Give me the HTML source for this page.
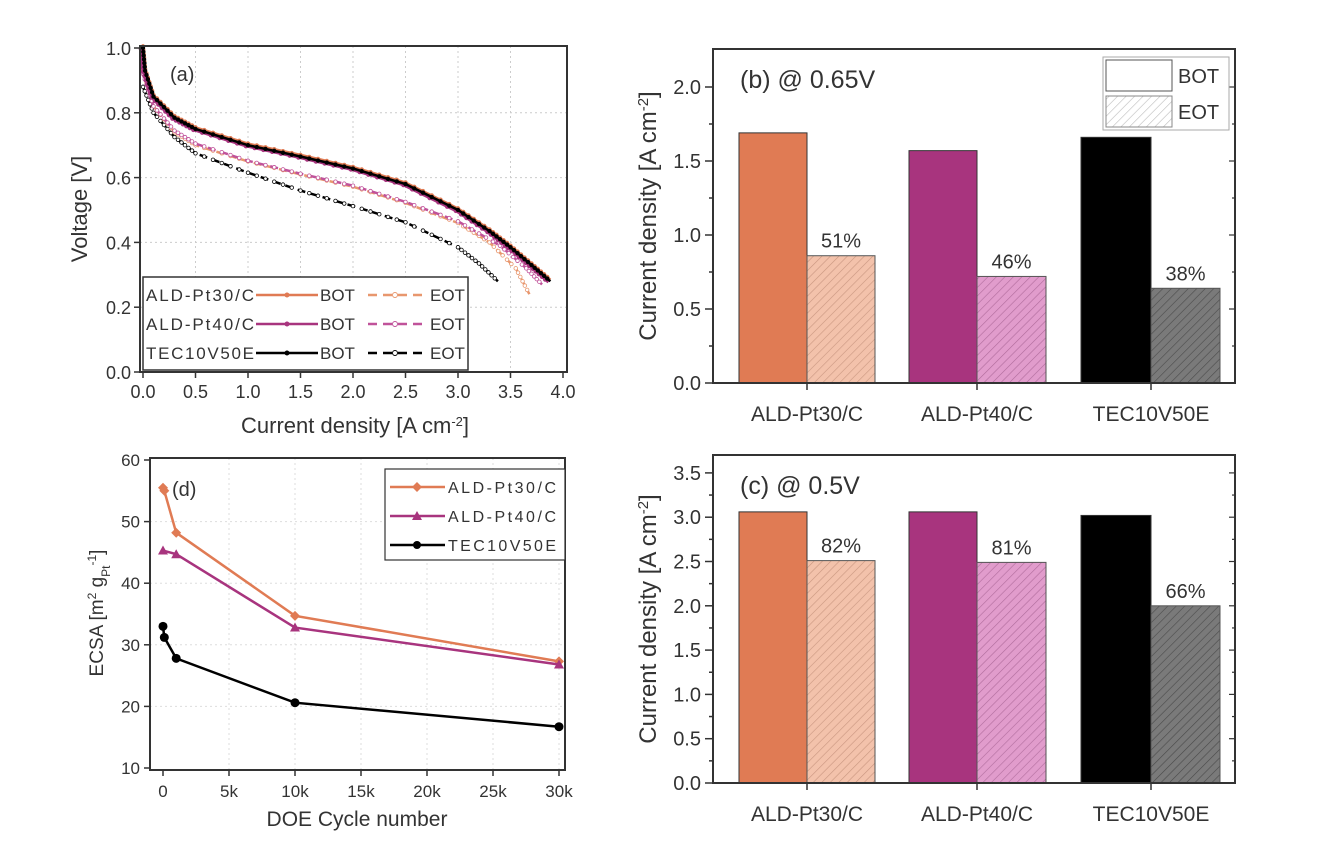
<!DOCTYPE html>
<html><head><meta charset="utf-8"><style>
body{margin:0;background:#fff;}
svg text{font-family:"Liberation Sans","DejaVu Sans",sans-serif;fill:#333;}
</style></head><body>
<svg id="s" width="1332" height="858" viewBox="0 0 1332 858" xmlns="http://www.w3.org/2000/svg">
<defs>
<pattern id="hp" patternUnits="userSpaceOnUse" width="6" height="6" patternTransform="rotate(45)"><rect width="6" height="6" fill="#f3c2ab"/><line x1="0" y1="0" x2="0" y2="6" stroke="#c99680" stroke-width="1.2"/></pattern>
<pattern id="hk" patternUnits="userSpaceOnUse" width="6" height="6" patternTransform="rotate(45)"><rect width="6" height="6" fill="#e19ccc"/><line x1="0" y1="0" x2="0" y2="6" stroke="#b06c9c" stroke-width="1.2"/></pattern>
<pattern id="hg" patternUnits="userSpaceOnUse" width="6" height="6" patternTransform="rotate(45)"><rect width="6" height="6" fill="#7a7a7a"/><line x1="0" y1="0" x2="0" y2="6" stroke="#4a4a4a" stroke-width="1.2"/></pattern>
<pattern id="hw" patternUnits="userSpaceOnUse" width="6" height="6" patternTransform="rotate(45)"><rect width="6" height="6" fill="#fff"/><line x1="0" y1="0" x2="0" y2="6" stroke="#bbb" stroke-width="1.2"/></pattern>
</defs>
</svg>
<script>
var s=document.getElementById('s');var NS='http://www.w3.org/2000/svg';
function el(t,a,txt){var e=document.createElementNS(NS,t);for(var k in a)e.setAttribute(k,a[k]);if(txt!=null)e.textContent=txt;s.appendChild(e);return e;}
function T(x,y,t,fs,anchor,extra){var a={x:x,y:y,'font-size':fs,'text-anchor':anchor||'start'};for(var k in extra)a[k]=extra[k];return el('text',a,t);}
var O='#e07b54',P='#a8347e',K='#000';
// ---------- Panel (a)
var ax=function(j){return 143+j*105},ay=function(v){return 372-v*324};
for(var i=1;i<8;i++){el('line',{x1:ax(i*0.5),y1:46,x2:ax(i*0.5),y2:372,stroke:'#ccc','stroke-dasharray':'2,3'});}
for(var i=1;i<5;i++){el('line',{x1:140,y1:ay(i*0.2),x2:567,y2:ay(i*0.2),stroke:'#ccc','stroke-dasharray':'2,3'});}
function curve(pts,col,dash,open,w){var d='';pts.forEach(function(p,i){d+=(i?'L':'M')+ax(p[0]).toFixed(1)+','+ay(p[1]).toFixed(1);});
el('path',{d:d,fill:'none',stroke:col,'stroke-width':w||2.5,'stroke-dasharray':dash||'none'});
for(var i=0;i<pts.length-1;i++){var n=6;for(var k=0;k<n;k++){var t=k/n;var x=pts[i][0]+(pts[i+1][0]-pts[i][0])*t,y=pts[i][1]+(pts[i+1][1]-pts[i][1])*t;el('circle',{cx:ax(x),cy:ay(y),r:1.8,fill:open?'#fff':col,stroke:col,'stroke-width':0.8});}}}
var bot=[[0,1.0],[0.02,0.93],[0.1,0.85],[0.3,0.785],[0.5,0.75],[1.0,0.70],[1.5,0.665],[2.0,0.628],[2.5,0.58],[3.0,0.50],[3.3,0.435],[3.5,0.385],[3.7,0.33],[3.88,0.28]];
var eotO=[[0,0.93],[0.1,0.82],[0.3,0.74],[0.5,0.70],[1,0.65],[1.5,0.61],[2,0.572],[2.5,0.522],[3,0.46],[3.3,0.40],[3.55,0.32],[3.68,0.24]];
var eotP=[[0,0.92],[0.1,0.82],[0.3,0.745],[0.5,0.705],[1,0.652],[1.5,0.612],[2,0.575],[2.5,0.525],[3,0.465],[3.4,0.39],[3.65,0.32],[3.8,0.27]];
var eotK=[[0,0.88],[0.1,0.80],[0.3,0.725],[0.5,0.675],[1,0.615],[1.5,0.56],[2,0.512],[2.5,0.462],[3,0.385],[3.2,0.335],[3.38,0.28]];
curve(eotK,K,'8,5',true);curve(eotO,'#e8976e','8,5',true);curve(eotP,'#c0529a','8,5',true);
var bO=bot.map(function(p){return[p[0],p[1]+0.005]});curve(bO,O);
var bP=bot.map(function(p){return[p[0]-0.02,p[1]-0.003]});curve(bP,P);curve(bot,K);
el('rect',{x:140,y:46,width:427,height:326,fill:'none',stroke:'#333','stroke-width':2});
for(var i=0;i<=8;i++){el('line',{x1:ax(i*0.5),y1:372,x2:ax(i*0.5),y2:378,stroke:'#333','stroke-width':1.5});T(ax(i*0.5),398,(i*0.5).toFixed(1),18,'middle');}
for(var i=0;i<=5;i++){el('line',{x1:134,y1:ay(i*0.2),x2:140,y2:ay(i*0.2),stroke:'#333','stroke-width':1.5});T(131,ay(i*0.2)+7,(i*0.2).toFixed(1),18,'end');}
T(355,433,'',22,'middle').innerHTML='Current density [A cm<tspan baseline-shift="super" font-size="13">-2</tspan>]';
T(0,0,'Voltage [V]',22,'middle',{transform:'translate(87,209) rotate(-90)'});
T(170,81,'(a)',20,'start');
el('rect',{x:143,y:277,width:325,height:93,fill:'#fff',stroke:'#333','stroke-width':1.5});
var rows=[['ALD-Pt30/C',O,'#e8976e'],['ALD-Pt40/C',P,'#c0529a'],['TEC10V50E',K,K]];
rows.forEach(function(r,i){var y=295+i*29;T(146,y+6,r[0],17,'start',{textLength:108});el('line',{x1:256,y1:y,x2:318,y2:y,stroke:r[1],'stroke-width':2.5});el('circle',{cx:287,cy:y,r:2.5,fill:r[1]});T(320,y+6,'BOT',17);
el('line',{x1:368,y1:y,x2:422,y2:y,stroke:r[2],'stroke-width':2.5,'stroke-dasharray':'9,6'});el('circle',{cx:395,cy:y,r:2.5,fill:'#fff',stroke:r[2]});T(430,y+6,'EOT',17);});
// ---------- Panel (d)
var dx=function(c){return 163+c*(396/30000)},dy=function(v){return 768-(v-10)*6.16};
for(var i=1;i<7;i++){el('line',{x1:dx(i*5000),y1:458,x2:dx(i*5000),y2:770,stroke:'#ddd','stroke-dasharray':'2,3'});}
for(var i=1;i<5;i++){el('line',{x1:150,y1:dy(10+i*10),x2:565,y2:dy(10+i*10),stroke:'#ddd','stroke-dasharray':'2,3'});}
function mk(type,x,y,col,r){if(type=='c')el('circle',{cx:x,cy:y,r:r||4.5,fill:col});else if(type=='t')el('polygon',{points:(x-5)+','+(y+4)+' '+(x+5)+','+(y+4)+' '+x+','+(y-5),fill:col});else el('polygon',{points:x+','+(y-5)+' '+(x+5)+','+y+' '+x+','+(y+5)+' '+(x-5)+','+y,fill:col});}
function dl(pts,col,m){var d='';pts.forEach(function(p,i){d+=(i?'L':'M')+dx(p[0]).toFixed(1)+','+dy(p[1]).toFixed(1);});el('path',{d:d,fill:'none',stroke:col,'stroke-width':2.5});
pts.forEach(function(p){mk(m,dx(p[0]),dy(p[1]),col);});}
dl([[0,55.5],[100,55],[1000,48.2],[10000,34.7],[30000,27.3]],O,'d');
dl([[0,45.3],[1000,44.7],[10000,32.8],[30000,26.8]],P,'t');
dl([[0,33],[100,31.2],[1000,27.8],[10000,20.6],[30000,16.7]],K,'c');
el('rect',{x:150,y:458,width:415,height:312,fill:'none',stroke:'#333','stroke-width':2});
var xl=['0','5k','10k','15k','20k','25k','30k'];
for(var i=0;i<7;i++){el('line',{x1:dx(i*5000),y1:770,x2:dx(i*5000),y2:776,stroke:'#333','stroke-width':1.5});T(dx(i*5000),797,xl[i],17,'middle');}
for(var i=0;i<6;i++){var v=10+i*10;el('line',{x1:144,y1:dy(v),x2:150,y2:dy(v),stroke:'#333','stroke-width':1.5});T(140,dy(v)+6,String(v),17,'end');}
T(357,826,'DOE Cycle number',21,'middle');
var yt=T(0,0,'',19,'middle',{transform:'translate(103,613) rotate(-90)'});yt.innerHTML='ECSA [m<tspan baseline-shift="super" font-size="12">2</tspan> g<tspan baseline-shift="sub" font-size="12">Pt</tspan><tspan baseline-shift="super" font-size="12">-1</tspan>]';
T(172,496,'(d)',20);
el('rect',{x:385,y:469,width:180,height:91,fill:'#fff',stroke:'#333','stroke-width':1.2});
[['ALD-Pt30/C',O,'d'],['ALD-Pt40/C',P,'t'],['TEC10V50E',K,'c']].forEach(function(r,i){var y=487+i*29;el('line',{x1:390,y1:y,x2:445,y2:y,stroke:r[1],'stroke-width':2.5});mk(r[2],417,y,r[1],4);
T(448,y+6,r[0],16,'start',{textLength:108});});
// ---------- Bar panels
function bars(top,zero,ppu,ymax,step,vals,pcts,label,legend){
 var by=function(v){return zero-v*ppu};
 var groups=[[739,807,875,O,'url(#hp)'],[909,977,1046,P,'url(#hk)'],[1081,1151,1220,K,'url(#hg)']];
 groups.forEach(function(g,i){el('rect',{x:g[0],y:by(vals[i][0]),width:g[1]-g[0],height:vals[i][0]*ppu,fill:g[3],stroke:'#333','stroke-width':1});
 el('rect',{x:g[1],y:by(vals[i][1]),width:g[2]-g[1],height:vals[i][1]*ppu,fill:g[4],stroke:'#555','stroke-width':1});
 T((g[1]+g[2])/2,by(vals[i][1])-8,pcts[i],20,'middle');
 el('line',{x1:g[1],y1:zero,x2:g[1],y2:zero+7,stroke:'#333','stroke-width':1.5});
 T(g[1],zero+38,['ALD-Pt30/C','ALD-Pt40/C','TEC10V50E'][i],21,'middle');});
 el('rect',{x:713,y:top,width:522,height:zero-top,fill:'none',stroke:'#333','stroke-width':2});
 for(var v=0;v<=ymax+1e-6;v+=step/2){var y=by(v);var major=Math.abs(v/step-Math.round(v/step))<1e-6;
  el('line',{x1:major?705:709,y1:y,x2:713,y2:y,stroke:'#333','stroke-width':1.5});el('line',{x1:1235,y1:y,x2:major?1229:1232,y2:y,stroke:'#333','stroke-width':1.2});
  if(major)T(701,y+7,v.toFixed(1),20,'end');}
 T(740,top+39,label,25);
 var yt=T(0,0,'',24,'middle',{transform:'translate(656,'+((top+zero)/2)+') rotate(-90)'});yt.innerHTML='Current density [A cm<tspan baseline-shift="super" font-size="15">-2</tspan>]';
 if(legend){el('rect',{x:1103,y:57,width:126,height:73,fill:'#fff',stroke:'#aaa','stroke-width':1});
  el('rect',{x:1106,y:60,width:66,height:31,fill:'#fff',stroke:'#555'});el('rect',{x:1106,y:96,width:66,height:31,fill:'url(#hw)',stroke:'#888'});
  T(1178,83,'BOT',20);T(1178,119,'EOT',20);}
}
bars(49,383,148,2.0,0.5,[[1.69,0.86],[1.57,0.72],[1.66,0.64]],['51%','46%','38%'],'(b) @ 0.65V',true);
bars(455,783,88.6,3.5,0.5,[[3.06,2.51],[3.06,2.49],[3.02,2.00]],['82%','81%','66%'],'(c) @ 0.5V',false);
</script>
</body></html>
